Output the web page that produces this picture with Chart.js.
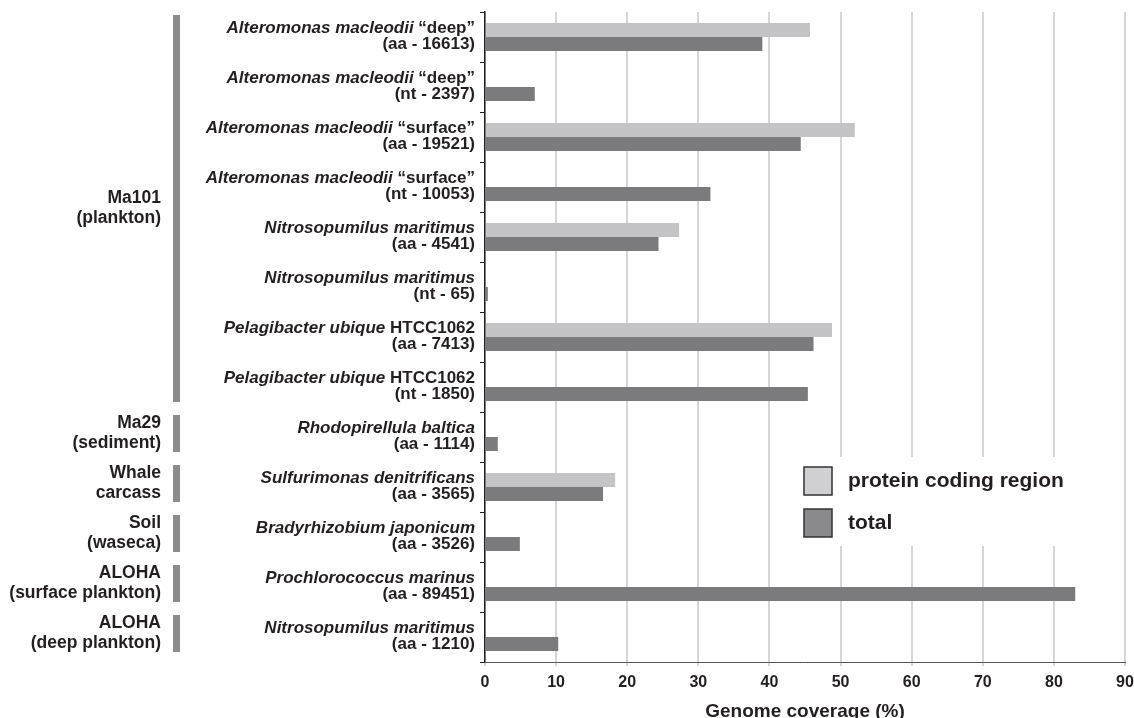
<!DOCTYPE html>
<html>
<head>
<meta charset="utf-8">
<script src="https://cdn.jsdelivr.net/npm/chart.js@4.4.1/dist/chart.umd.min.js"></script>
<style>
  html, body { margin: 0; padding: 0; background: #fff; }
  #wrap { width: 1134px; height: 718px; }
</style>
</head>
<body>
<div id="wrap"><canvas id="myChart"></canvas></div>
<script>
// species name (italic), suffix (upright), second line
const speciesNames = [
  "Alteromonas macleodii", "Alteromonas macleodii", "Alteromonas macleodii", "Alteromonas macleodii",
  "Nitrosopumilus maritimus", "Nitrosopumilus maritimus", "Pelagibacter ubique", "Pelagibacter ubique",
  "Rhodopirellula baltica", "Sulfurimonas denitrificans", "Bradyrhizobium japonicum",
  "Prochlorococcus marinus", "Nitrosopumilus maritimus"
];
const speciesSuffix = [
  " \u201cdeep\u201d", " \u201cdeep\u201d", " \u201csurface\u201d", " \u201csurface\u201d",
  "", "", " HTCC1062", " HTCC1062", "", "", "", "", ""
];
const speciesRefs = [
  "(aa - 16613)", "(nt - 2397)", "(aa - 19521)", "(nt - 10053)",
  "(aa - 4541)", "(nt - 65)", "(aa - 7413)", "(nt - 1850)",
  "(aa - 1114)", "(aa - 3565)", "(aa - 3526)", "(aa - 89451)", "(aa - 1210)"
];
const proteinCoding = [45.7, null, 52.0, null, 27.3, null, 48.8, null, null, 18.3, null, null, null];
const totalCoverage = [39.0, 7.0, 44.4, 31.7, 24.4, 0.4, 46.2, 45.4, 1.8, 16.6, 4.9, 83.0, 10.3];

// sample groups: first and last category index
const groupNames = [["Ma101", "(plankton)"], ["Ma29", "(sediment)"], ["Whale", "carcass"],
  ["Soil", "(waseca)"], ["ALOHA", "(surface plankton)"], ["ALOHA", "(deep plankton)"]];
const groupStart = [0, 8, 9, 10, 11, 12];
const groupEnd = [7, 8, 9, 10, 11, 12];

const xTicks = [0, 10, 20, 30, 40, 50, 60, 70, 80, 90];

const FONT = "'Liberation Sans', Arial, Helvetica, sans-serif";
const lightGray = "#c4c4c6";
const darkGray = "#7b7b7e";

const labelsPlugin = {
  id: "sideLabels",
  afterDraw(chart) {
    const c = chart.ctx;
    const y = chart.scales.y;
    c.save();
    c.fillStyle = "#231f20";
    c.textBaseline = "middle";
    // category labels, two lines each
    for (let i = 0; i < speciesNames.length; i++) {
      const cy = y.getPixelForValue(i);
      const right = 475;
      c.font = "bold 17px " + FONT;
      const sw = c.measureText(speciesSuffix[i]).width;
      c.textAlign = "right";
      c.fillText(speciesSuffix[i], right, cy - 8.5);
      c.font = "italic bold 17px " + FONT;
      c.fillText(speciesNames[i], right - sw, cy - 8.5);
      c.font = "bold 17px " + FONT;
      c.fillText(speciesRefs[i], right, cy + 7.5);
    }
    // group bars and labels
    for (let g = 0; g < groupNames.length; g++) {
      const top = y.getPixelForValue(groupStart[g]) - 25 + 3;
      const bot = y.getPixelForValue(groupEnd[g]) + 25 - 10;
      c.fillStyle = "#8c8c8f";
      c.fillRect(173, top, 7, bot - top);
      const mid = (top + bot) / 2;
      c.fillStyle = "#231f20";
      c.font = "bold 17.5px " + FONT;
      c.textAlign = "right";
      c.fillText(groupNames[g][0], 161, mid - 10);
      c.fillText(groupNames[g][1], 161, mid + 9.5);
    }
    // legend box
    c.fillStyle = "#ffffff";
    c.fillRect(793, 457, 327, 89);
    const items = chart.data.datasets;
    const legendFill = ["#d0d0d2", "#8a8a8d"];
    for (let k = 0; k < items.length; k++) {
      const ly = 467 + k * 42;
      c.fillStyle = legendFill[k];
      c.fillRect(804, ly, 28, 28);
      c.strokeStyle = "#333";
      c.lineWidth = 1.5;
      c.strokeRect(804, ly, 28, 28);
      c.fillStyle = "#231f20";
      c.textAlign = "left";
      c.font = "bold 21px " + FONT;
      c.fillText(items[k].label, 848, ly + 14);
    }
    c.restore();
  }
};

const ctx = document.getElementById("myChart").getContext("2d");
const myChart = new Chart(ctx, {
  type: "bar",
  data: {
    labels: speciesNames,
    datasets: [{
      label: "protein coding region",
      data: proteinCoding,
      backgroundColor: lightGray,
      borderWidth: 0,
      categoryPercentage: 0.56,
      barPercentage: 1.0,
    }, {
      label: "total",
      data: totalCoverage,
      backgroundColor: darkGray,
      borderWidth: 0,
      categoryPercentage: 0.56,
      barPercentage: 1.0,
    }],
  },
  options: {
    indexAxis: "y",
    responsive: true,
    maintainAspectRatio: false,
    animation: false,
    layout: { padding: { left: 479, right: 0, top: 12, bottom: 0 } },
    plugins: {
      legend: { display: false },
      tooltip: { enabled: false },
    },
    scales: {
      y: {
        ticks: { display: false },
        grid: {
          drawOnChartArea: false,
          tickLength: 5,
          color: "#231f20",
          lineWidth: 1,
        },
        border: { color: "#231f20", width: 1.5 },
        afterFit(scale) { scale.width = 6; },
      },
      x: {
        min: 0,
        max: 90,
        afterBuildTicks(scale) { scale.ticks = xTicks.map(v => ({ value: v })); },
        afterFit(scale) {
          scale.height = 56;
          scale.paddingRight = 9;
        },
        ticks: {
          color: "#231f20",
          padding: 7,
          font: { family: FONT, size: 16, weight: "bold" },
        },
        grid: {
          color: "#d6d6d8",
          lineWidth: 2,
          tickLength: 4,
        },
        border: { color: "#555", width: 1 },
        title: {
          display: true,
          text: "Genome coverage (%)",
          color: "#231f20",
          padding: { top: 0, bottom: -5 },
          font: { family: FONT, size: 19, weight: "bold" },
        },
      },
    },
  },
  plugins: [labelsPlugin],
});
</script>
</body>
</html>
